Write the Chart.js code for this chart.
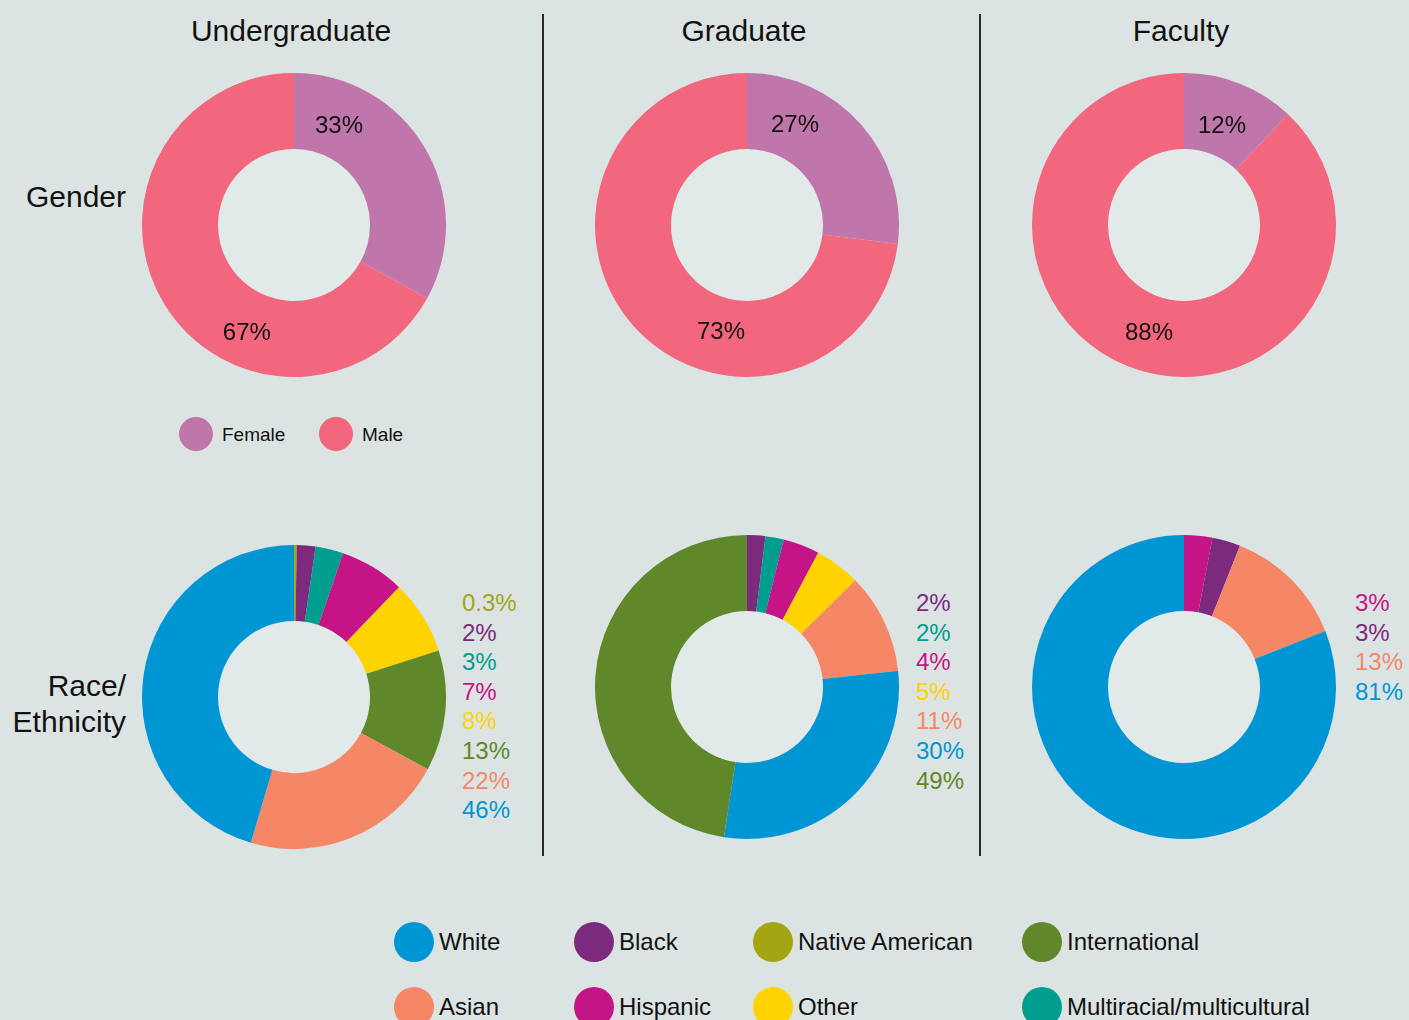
<!DOCTYPE html>
<html><head><meta charset="utf-8">
<script src="https://cdn.jsdelivr.net/npm/chart.js@4.4.0/dist/chart.umd.min.js"></script>
<style>
body{margin:0;background:#dce4e3;}
#wrap{position:relative;width:1409px;height:1020px;overflow:hidden;background:#dce4e3;font-family:"Liberation Sans",Arial,Helvetica,sans-serif;color:#111;}
.t{position:absolute;white-space:nowrap;line-height:1;}
canvas{position:absolute;}
.dot{position:absolute;border-radius:50%;}
.vline{position:absolute;width:2px;background:#2b2b2b;}
</style></head><body><div id="wrap"></div>
<script>
// ---------------- DATA ----------------
const columnTitles = ['Undergraduate', 'Graduate', 'Faculty'];
const rowTitles = [['Gender'], ['Race/', 'Ethnicity']];

const genderCategories = ['Female', 'Male'];
const undergradGender = [33, 67];
const graduateGender = [27, 73];
const facultyGender = [12, 88];

const undergradRaceCategories = ['Native American', 'Black', 'Multiracial/multicultural', 'Hispanic', 'Other', 'International', 'Asian', 'White'];
const undergradRace = [0.3, 2, 3, 7, 8, 13, 22, 46];

const graduateRaceCategories = ['Black', 'Multiracial/multicultural', 'Hispanic', 'Other', 'Asian', 'White', 'International'];
const graduateRace = [2, 2, 4, 5, 11, 30, 49];

const facultyRaceCategories = ['Hispanic', 'Black', 'Asian', 'White'];
const facultyRace = [3, 3, 13, 81];

const raceLegendRow1 = ['White', 'Black', 'Native American', 'International'];
const raceLegendRow2 = ['Asian', 'Hispanic', 'Other', 'Multiracial/multicultural'];

// ---------------- STYLE ----------------
const colors = {
  'Female': '#be76ab', 'Male': '#f2667e',
  'White': '#0096d3', 'Black': '#7b2a7e', 'Native American': '#a3a512', 'International': '#5e8829',
  'Asian': '#f58767', 'Hispanic': '#c51486', 'Other': '#ffd200', 'Multiracial/multicultural': '#009e8f'
};
const holeColor = '#e1e9e9';
const wrap = document.getElementById('wrap');

function addText(txt, x, y, size, align, color) {
  const d = document.createElement('div');
  d.className = 't';
  d.textContent = txt;
  d.style.fontSize = size + 'px';
  d.style.color = color || '#111';
  d.style.top = y + 'px';
  let tx = '0';
  if (align === 'center') tx = '-50%';
  if (align === 'right') tx = '-100%';
  d.style.left = x + 'px';
  d.style.transform = 'translate(' + tx + ',-50%)';
  wrap.appendChild(d);
}
function addDot(cx, cy, r, color) {
  const d = document.createElement('div');
  d.className = 'dot';
  d.style.left = (cx - r) + 'px'; d.style.top = (cy - r) + 'px';
  d.style.width = (2 * r) + 'px'; d.style.height = (2 * r) + 'px';
  d.style.background = color;
  wrap.appendChild(d);
}

// titles
const colCenters = [291, 744, 1181];
columnTitles.forEach((t, i) => addText(t, colCenters[i], 31, 30, 'center'));
addText(rowTitles[0][0], 126, 197, 30, 'right');
addText(rowTitles[1][0], 126, 686, 30, 'right');
addText(rowTitles[1][1], 126, 722, 30, 'right');

// dividers
[542, 979].forEach(x => {
  const l = document.createElement('div');
  l.className = 'vline';
  l.style.left = x + 'px'; l.style.top = '14px'; l.style.height = '842px';
  wrap.appendChild(l);
});

// plugins
const holePlugin = {
  id: 'hole',
  beforeDatasetsDraw(chart, args, opts) {
    const a = chart.getDatasetMeta(0).data[0];
    if (!a) return;
    const p = a.getProps(['x', 'y', 'innerRadius'], true);
    const ctx = chart.ctx;
    ctx.save();
    ctx.beginPath();
    ctx.arc(p.x, p.y, p.innerRadius, 0, Math.PI * 2);
    ctx.fillStyle = opts.color;
    ctx.fill();
    ctx.restore();
  }
};
const ringLabels = {
  id: 'ringLabels',
  afterDatasetsDraw(chart, args, opts) {
    if (!opts.angles) return;
    const meta = chart.getDatasetMeta(0);
    const vals = chart.data.datasets[0].data;
    const ctx = chart.ctx;
    ctx.save();
    ctx.font = '24px "Liberation Sans", Arial, sans-serif';
    ctx.fillStyle = '#111';
    ctx.textAlign = 'center';
    ctx.textBaseline = 'alphabetic';
    meta.data.forEach((arc, i) => {
      const p = arc.getProps(['x', 'y'], true);
      const ang = (opts.angles[i] - 90) * Math.PI / 180;
      const r = opts.radii[i];
      ctx.fillText(vals[i] + '%', p.x + r * Math.cos(ang), p.y + r * Math.sin(ang) + 8.6);
    });
    ctx.restore();
  }
};

function makeDonut(cx, cy, labels, values, labelAngles, labelRadii) {
  const c = document.createElement('canvas');
  c.width = 306; c.height = 306;
  c.style.width = '306px'; c.style.height = '306px';
  c.style.left = (cx - 153) + 'px'; c.style.top = (cy - 153) + 'px';
  wrap.appendChild(c);
  new Chart(c, {
    type: 'doughnut',
    data: {
      labels: labels,
      datasets: [{ data: values, backgroundColor: labels.map(l => colors[l]), borderWidth: 0 }]
    },
    options: {
      responsive: false, devicePixelRatio: 1, animation: false,
      cutout: '50%', radius: 152,
      layout: { padding: 0 },
      plugins: {
        legend: { display: false }, tooltip: { enabled: false },
        hole: { color: holeColor },
        ringLabels: labelAngles ? { angles: labelAngles, radii: labelRadii } : {}
      }
    },
    plugins: [holePlugin, ringLabels]
  });
}

// gender donuts
makeDonut(294, 225, genderCategories, undergradGender, [24, 204], [110.6, 116]);
makeDonut(747, 225, genderCategories, graduateGender, [25.4, 193.8], [112, 109]);
makeDonut(1184, 225, genderCategories, facultyGender, [20.6, 198.3], [108, 111.6]);

// race donuts
makeDonut(294, 697, undergradRaceCategories, undergradRace, null, null);
makeDonut(747, 687, graduateRaceCategories, graduateRace, null, null);
makeDonut(1184, 687, facultyRaceCategories, facultyRace, null, null);

// percentage lists
function addList(x, y0, cats, vals) {
  vals.forEach((v, i) => addText(v + '%', x, y0 + i * 29.6, 24, 'left', colors[cats[i]]));
}
addList(462, 603, undergradRaceCategories, undergradRace);
addList(916, 603, graduateRaceCategories, graduateRace);
addList(1355, 603, facultyRaceCategories, facultyRace);

// gender legend
const gLegendX = [196, 336];
genderCategories.forEach((g, i) => {
  addDot(gLegendX[i], 434, 17, colors[g]);
  addText(g, gLegendX[i] + 26, 434, 19, 'left');
});

// race legend
const rLegendX = [414, 594, 773, 1042];
[raceLegendRow1, raceLegendRow2].forEach((row, ri) => {
  const y = ri === 0 ? 942 : 1007;
  row.forEach((cat, i) => {
    addDot(rLegendX[i], y, 20, colors[cat]);
    addText(cat, rLegendX[i] + 25, y, 24, 'left');
  });
});
</script></body></html>
